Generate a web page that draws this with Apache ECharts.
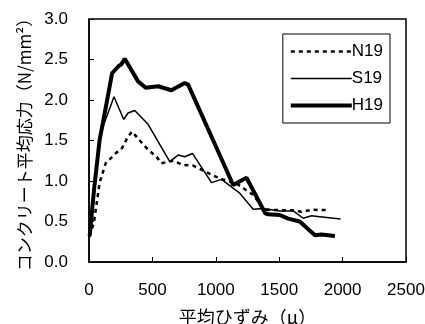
<!DOCTYPE html>
<html>
<head>
<meta charset="utf-8">
<script src="https://cdn.jsdelivr.net/npm/echarts@6/dist/echarts.min.js"></script>
<style>
html,body{margin:0;padding:0;background:#fff;}
#c{width:425px;height:324px;}
</style>
</head>
<body>
<div id="c"></div>
<script>
var seriesNames = ['N19', 'S19', 'H19'];
var n19 = [[5,0.32],[39,0.49],[84,0.98],[132,1.22],[216,1.35],[255,1.39],[308,1.55],[340,1.61],[400,1.50],[470,1.38],[532,1.30],[571,1.22],[663,1.25],[742,1.20],[821,1.19],[926,1.11],[1032,1.03],[1162,0.97],[1293,0.83],[1386,0.645],[1504,0.64],[1607,0.64],[1675,0.62],[1765,0.645],[1887,0.64]];
var s19 = [[5,0.30],[40,0.80],[79,1.47],[110,1.67],[197,2.04],[274,1.76],[308,1.84],[361,1.87],[466,1.70],[637,1.24],[703,1.32],[755,1.30],[816,1.34],[966,0.98],[1045,1.02],[1189,0.85],[1295,0.65],[1374,0.66],[1505,0.63],[1611,0.63],[1689,0.54],[1755,0.57],[1821,0.56],[1984,0.53]];
var h19 = [[5,0.32],[40,0.90],[84,1.51],[110,1.72],[182,2.33],[234,2.42],[255,2.44],[282,2.51],[387,2.23],[447,2.15],[545,2.17],[650,2.12],[755,2.21],[782,2.19],[1137,0.95],[1242,1.04],[1390,0.60],[1413,0.59],[1505,0.58],[1570,0.535],[1662,0.50],[1782,0.33],[1833,0.34],[1939,0.32]];
var xTicks = [0, 500, 1000, 1500, 2000, 2500];
var yTicks = [0, 0.5, 1.0, 1.5, 2.0, 2.5, 3.0];

var font = '"Liberation Sans", Arial, sans-serif';
var jfont = '"Noto Sans CJK JP", sans-serif';
var styles = {
  N19: {color: '#000', width: 2.5, type: [4, 4]},
  S19: {color: '#000', width: 1.5, type: 'solid'},
  H19: {color: '#000', width: 4, type: 'solid'}
};
var chart = echarts.init(document.getElementById('c'));
chart.setOption({
  animation: false,
  backgroundColor: '#fff',
  grid: {left: 89, right: 19, top: 19, bottom: 62, show: true, borderColor: '#000', borderWidth: 1.5, backgroundColor: 'transparent', containLabel: false, outerBoundsMode: 'none'},
  legend: {
    orient: 'vertical', right: 35, top: 34,
    data: seriesNames.map(function(n){ return {name: n, lineStyle: styles[n]}; }),
    borderColor: '#000', borderWidth: 1, padding: [9, 7, 9, 6],
    itemWidth: 61, itemHeight: 14, itemGap: 10,
    itemStyle: {opacity: 0},
    textStyle: {fontFamily: font, fontSize: 17, color: '#000', padding: [0,0,0,-5]}
  },
  xAxis: {
    type: 'value', min: xTicks[0], max: xTicks[xTicks.length-1], interval: 500,
    name: '平均ひずみ（μ）', nameLocation: 'middle', nameGap: 46,
    nameTextStyle: {fontFamily: jfont, fontSize: 18, color: '#000'},
    axisLine: {lineStyle: {color: '#000', width: 1.5}},
    axisTick: {inside: true, length: 5, lineStyle: {color: '#000'}},
    axisLabel: {fontFamily: font, fontSize: 17, color: '#000', margin: 20, formatter: function(v){return String(v);}},
    splitLine: {show: false}
  },
  yAxis: {
    type: 'value', min: yTicks[0], max: yTicks[yTicks.length-1], interval: 0.5,
    name: 'コンクリート平均応力（N/mm²）', nameLocation: 'middle', nameGap: 50, nameRotate: 90,
    nameTextStyle: {fontFamily: jfont, fontSize: 17, color: '#000'},
    axisLine: {show: true, lineStyle: {color: '#000', width: 1.5}},
    axisTick: {inside: true, length: 5, lineStyle: {color: '#000'}},
    axisLabel: {fontFamily: font, fontSize: 17, color: '#000', margin: 21, formatter: function(v){return v.toFixed(1);}},
    splitLine: {show: false}
  },
  series: seriesNames.map(function(n, i){
    return {name: n, type: 'line', data: [n19, s19, h19][i], symbol: 'none', lineStyle: styles[n], itemStyle: {color: '#000'}};
  })
});
</script>
</body>
</html>
